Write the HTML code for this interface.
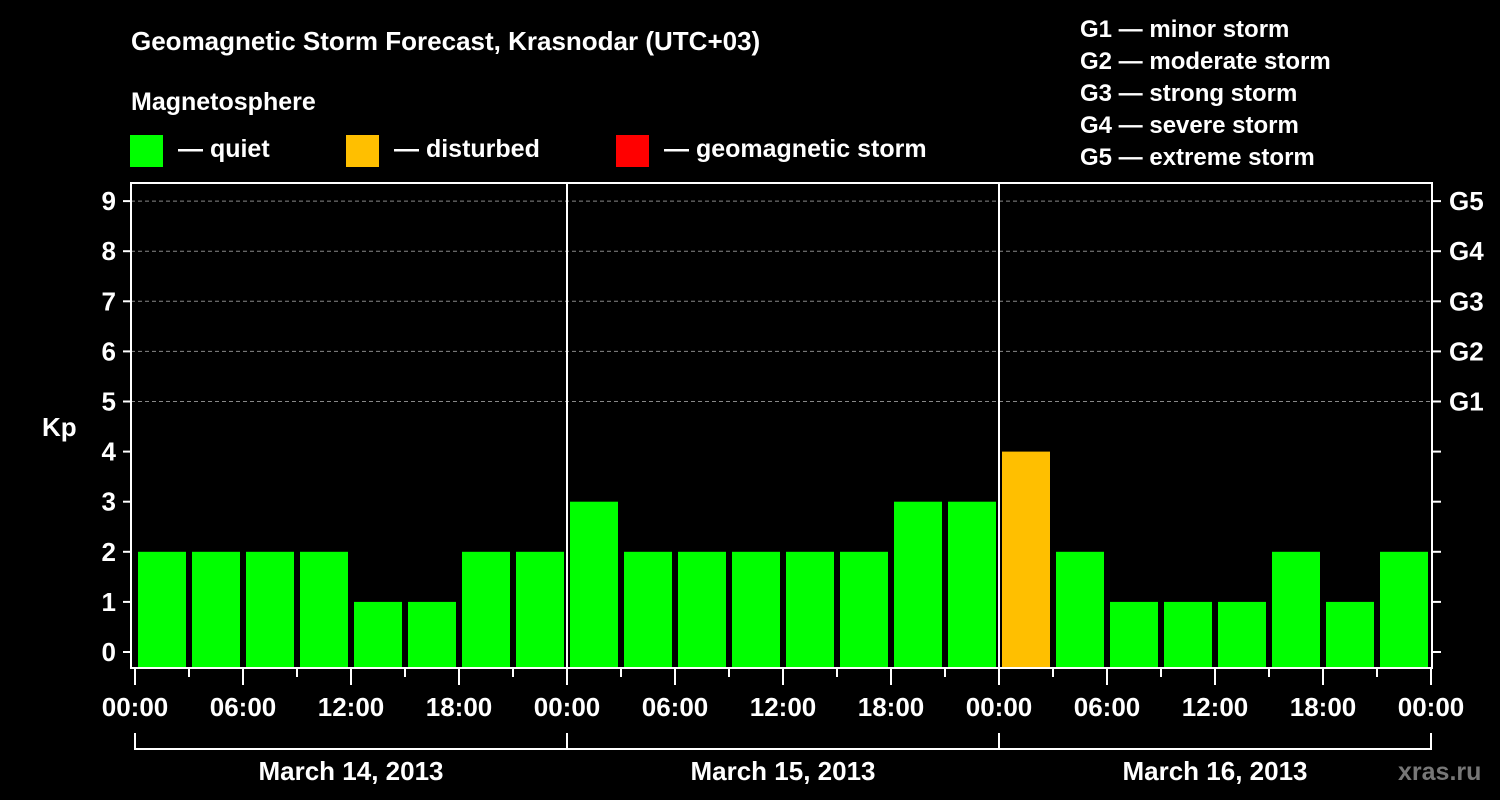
<!DOCTYPE html>
<html><head><meta charset="utf-8"><style>
html,body{margin:0;padding:0;background:#000;}
svg{display:block;font-family:"Liberation Sans",sans-serif;font-weight:bold;}
</style></head><body>
<svg id="chart" width="1500" height="800" viewBox="0 0 1500 800" xmlns="http://www.w3.org/2000/svg">
<rect width="1500" height="800" fill="#000"/>
<text x="131" y="50" fill="#fff" font-size="26">Geomagnetic Storm Forecast, Krasnodar (UTC+03)</text>
<text x="131" y="110" fill="#fff" font-size="25">Magnetosphere</text>
<rect x="130" y="135" width="33" height="32" fill="#00ff00"/>
<text x="178" y="157" fill="#fff" font-size="25">— quiet</text>
<rect x="346" y="135" width="33" height="32" fill="#ffbf00"/>
<text x="394" y="157" fill="#fff" font-size="25">— disturbed</text>
<rect x="616" y="135" width="33" height="32" fill="#ff0000"/>
<text x="664" y="157" fill="#fff" font-size="25">— geomagnetic storm</text>
<g fill="#fff" font-size="24">
<text x="1080" y="37">G1 — minor storm</text>
<text x="1080" y="69">G2 — moderate storm</text>
<text x="1080" y="101">G3 — strong storm</text>
<text x="1080" y="133">G4 — severe storm</text>
<text x="1080" y="165">G5 — extreme storm</text>
</g>
<text x="42" y="436" fill="#fff" font-size="26">Kp</text>
<text x="1398" y="780" fill="#777" font-size="25">xras.ru</text>
<g id="plot"></g>
</svg>
<script>
const kpValues = [2,2,2,2,1,1,2,2, 3,2,2,2,2,2,3,3, 4,2,1,1,1,2,1,2];
const dayLabels = ["March 14, 2013","March 15, 2013","March 16, 2013"];
const hourLabels = ["00:00","06:00","12:00","18:00"];
const yTicks = [0,1,2,3,4,5,6,7,8,9];
const gLabels = ["G1","G2","G3","G4","G5"];

const NS="http://www.w3.org/2000/svg";
const plot=document.getElementById('plot');
const L=131,R=1432,T=183,B=668,X0=135,SLOT=54;
const y=v=>652-v*50.1;
const x=i=>X0+i*SLOT;
function mk(tag,attrs,parent){const e=document.createElementNS(NS,tag);for(const k in attrs)e.setAttribute(k,attrs[k]);(parent||plot).appendChild(e);return e;}
// grid
for(let v=5;v<=9;v++){
  const g=mk('line',{x1:L,x2:R,y1:y(v),y2:y(v),stroke:'#888','stroke-width':1,'stroke-dasharray':'4,3'});
  
  
}
// bars
kpValues.forEach((v,i)=>{
  const col=v>=5?'#ff0000':(v>=4?'#ffbf00':'#00ff00');
  const r=mk('rect',{x:x(i)+3,y:y(v),width:48,height:B-y(v),fill:col});
  
  
});
// day separators
for(let d=1;d<3;d++){
  const s=mk('line',{x1:x(d*8),x2:x(d*8),y1:T,y2:B,stroke:'#fff','stroke-width':2});
  
  
}
// frame
const fr=mk('rect',{x:L,y:T,width:R-L,height:B-T,fill:'none',stroke:'#fff','stroke-width':2});


// y ticks
yTicks.forEach(v=>{
  const t=mk('line',{x1:L-8,x2:L,y1:y(v),y2:y(v),stroke:'#fff','stroke-width':2});
  
  
  const t2=mk('line',{x1:R,x2:R+9,y1:y(v),y2:y(v),stroke:'#fff','stroke-width':2});
  
  
  const l=mk('text',{x:L-15,y:y(v)+9,fill:'#fff','font-size':26,'text-anchor':'end'});
  l.textContent=v;
  
  
});
gLabels.forEach((g,i)=>{
  const l=mk('text',{x:R+17,y:y(5+i)+9,fill:'#fff','font-size':26});
  l.textContent=g;
  
  
});
// x ticks
for(let i=0;i<=24;i++){
  const major=i%2===0;
  const t=mk('line',{x1:x(i),x2:x(i),y1:B,y2:B+(major?17:9),stroke:'#fff','stroke-width':2});
  
  
  if(major){
    const l=mk('text',{x:x(i),y:716,fill:'#fff','font-size':26,'text-anchor':'middle'});
    l.textContent=hourLabels[(i/2)%4];
    
    
  }
}
// date brackets
const br=mk('path',{d:`M${x(0)},733 V749 H${x(24)} V733 M${x(8)},733 V749 M${x(16)},733 V749`,fill:'none',stroke:'#fff','stroke-width':2});


dayLabels.forEach((d,i)=>{
  const l=mk('text',{x:x(i*8+4),y:780,fill:'#fff','font-size':26,'text-anchor':'middle'});
  l.textContent=d;
  
  
});
</script>
</body></html>
